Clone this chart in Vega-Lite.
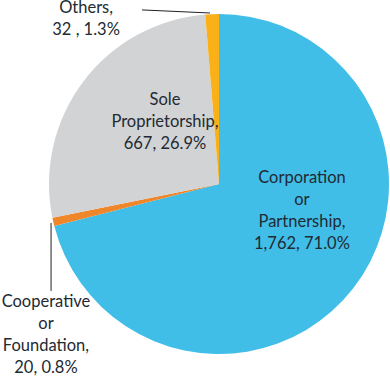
{
  "$schema": "https://vega.github.io/schema/vega-lite/v6.json",
  "width": 342,
  "height": 368,
  "padding": {"left": 48, "top": 0, "right": 0, "bottom": 8},
  "autosize": {"type": "none"},
  "background": "white",
  "config": {"view": {"stroke": null}},
  "layer": [
    {
      "data": {"values": [
        {"type": "Corporation or Partnership", "count": 1762, "ord": 1},
        {"type": "Cooperative or Foundation", "count": 20, "ord": 2},
        {"type": "Sole Proprietorship", "count": 667, "ord": 3},
        {"type": "Others", "count": 32, "ord": 4}
      ]},
      "mark": {"type": "arc", "outerRadius": 170},
      "encoding": {
        "theta": {"field": "count", "type": "quantitative", "stack": true},
        "order": {"field": "ord", "type": "quantitative"},
        "color": {
          "field": "type", "type": "nominal", "legend": null,
          "scale": {
            "domain": ["Corporation or Partnership", "Cooperative or Foundation", "Sole Proprietorship", "Others"],
            "range": ["#40bee8", "#f0862a", "#d2d3d5", "#fab118"]
          }
        }
      }
    },
    {
      "data": {"values": [
        {"seg": "Others", "x": -0.453, "y": 1.024, "x2": -0.053, "y2": 1.006},
        {"seg": "Cooperative", "x": -0.988, "y": -0.229, "x2": -0.988, "y2": -0.629}
      ]},
      "mark": {"type": "rule", "color": "#222222", "strokeWidth": 1},
      "encoding": {
        "x": {"field": "x", "type": "quantitative", "scale": {"domain": [-1.006, 1.006]}, "axis": null},
        "y": {"field": "y", "type": "quantitative", "scale": {"domain": [-1.0824, 1.0824]}, "axis": null},
        "x2": {"field": "x2"},
        "y2": {"field": "y2"}
      }
    },
    {
      "data": {"values": [
        {"label": "Corporation\nor\nPartnership,\n1,762,  71.0%", "x": 0.488, "y": 0.035},
        {"label": "Sole\nProprietorship,\n667,  26.9%", "x": -0.318, "y": 0.494},
        {"label": "Others,\n32 ,  1.3%", "x": -0.782, "y": 1.035},
        {"label": "Cooperative\nor\nFoundation,\n20,  0.8%", "x": -1.018, "y": -0.694}
      ]},
      "mark": {"type": "text", "lineBreak": "\n", "lineHeight": 22, "font": "Lato", "fontSize": 16.5, "color": "#222a33", "align": "center", "baseline": "middle"},
      "encoding": {
        "x": {"field": "x", "type": "quantitative", "scale": {"domain": [-1.006, 1.006]}, "axis": null},
        "y": {"field": "y", "type": "quantitative", "scale": {"domain": [-1.0824, 1.0824]}, "axis": null},
        "text": {"field": "label"}
      }
    }
  ]
}
